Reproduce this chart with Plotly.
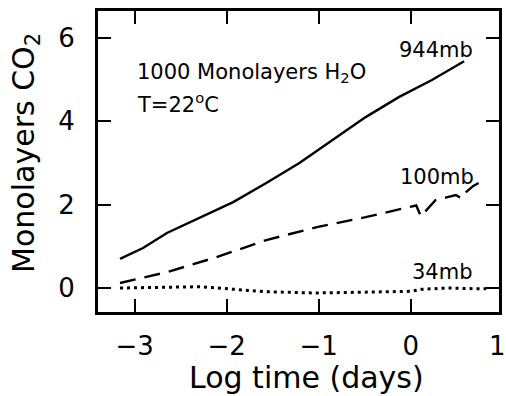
import plotly.graph_objects as go

# 944 mb (solid)
x944 = [-3.16, -2.91, -2.65, -2.29, -1.93, -1.57, -1.21, -0.85, -0.49, -0.13, 0.23, 0.58]
y944 = [0.70, 0.96, 1.32, 1.68, 2.06, 2.52, 3.00, 3.55, 4.10, 4.58, 4.99, 5.44]

# 100 mb (dashed)
x100 = [-3.16, -2.65, -2.11, -1.57, -1.02, -0.49, -0.02, 0.06, 0.11, 0.27, 0.40, 0.49, 0.55, 0.61, 0.68, 0.74, 0.80]
y100 = [0.12, 0.38, 0.74, 1.15, 1.46, 1.70, 1.94, 1.98, 1.72, 2.11, 2.18, 2.23, 2.15, 2.32, 2.45, 2.52, 2.48]

# 34 mb (dotted)
x34 = [-3.16, -2.70, -2.29, -1.93, -1.57, -1.03, -0.49, 0.00, 0.12, 0.41, 0.74, 0.82]
y34 = [0.00, 0.02, 0.03, -0.03, -0.09, -0.12, -0.10, -0.08, -0.03, 0.00, -0.02, -0.02]

xticks = [-3, -2, -1, 0]
xtick_labels = ["\u22123", "\u22122", "\u22121", "0"]
extra_xtick_label = "1"
yticks = [0, 2, 4, 6]

FONT = "DejaVu Sans"
TICK_SIZE = 26

fig = go.Figure()
fig.add_trace(go.Scatter(x=x944, y=y944, mode="lines",
                         line=dict(color="black", width=2.4)))
fig.add_trace(go.Scatter(x=x100, y=y100, mode="lines",
                         line=dict(color="black", width=2.4, dash="16px,9px")))
fig.add_trace(go.Scatter(x=x34, y=y34, mode="lines",
                         line=dict(color="black", width=3, dash="3px,4px")))

axis_common = dict(showline=True, linecolor="black", linewidth=2, mirror="ticks",
                   ticks="inside", ticklen=14, tickwidth=2, tickcolor="black",
                   showgrid=False, zeroline=False, automargin=False,
                   tickfont=dict(family=FONT, size=TICK_SIZE, color="black"))

fig.update_xaxes(range=[-3.41, 0.97], tickvals=xticks, ticktext=xtick_labels,
                 ticklabelstandoff=9, **axis_common)
fig.update_yaxes(range=[-0.6, 6.67], tickvals=yticks,
                 ticklabelstandoff=15, **axis_common)

ann_font = dict(family=FONT, size=21, color="black")
title_font = dict(family=FONT, size=30, color="black")
annotations = [
    dict(x=0.9926, y=-0.108, xref="paper", yref="paper", text=extra_xtick_label,
         showarrow=False, xanchor="center", yanchor="middle",
         font=dict(family=FONT, size=TICK_SIZE, color="black")),
    dict(x=0.519, y=-0.212, xref="paper", yref="paper", text="Log time (days)",
         showarrow=False, xanchor="center", yanchor="middle", font=title_font),
    dict(x=-0.179, y=0.528, xref="paper", yref="paper", text="Monolayers CO<sub>2</sub>",
         showarrow=False, xanchor="center", yanchor="middle", textangle=-90, font=title_font),
    dict(x=0.27, y=5.7, text="944mb", showarrow=False, font=ann_font),
    dict(x=0.28, y=2.67, text="100mb", showarrow=False, font=ann_font),
    dict(x=0.34, y=0.38, text="34mb", showarrow=False, font=ann_font),
    dict(x=-3.0, y=5.15, text="1000 Monolayers H<sub>2</sub>O", showarrow=False,
         xanchor="left", font=ann_font),
    dict(x=-3.0, y=4.45, text="T=22<sup>o</sup>C", showarrow=False,
         xanchor="left", font=ann_font),
]
fig.update_layout(width=506, height=396, showlegend=False,
                  margin=dict(l=97, r=6, t=10, b=83),
                  plot_bgcolor="white", paper_bgcolor="white",
                  font=dict(family=FONT, color="black"),
                  annotations=annotations,
                  shapes=[dict(type="rect", xref="paper", yref="paper", x0=0, x1=1, y0=0, y1=1,
                               line=dict(color="black", width=2))])
fig.write_html("out.html", config={"displayModeBar": False},
               post_script="document.body.style.margin='0';")
